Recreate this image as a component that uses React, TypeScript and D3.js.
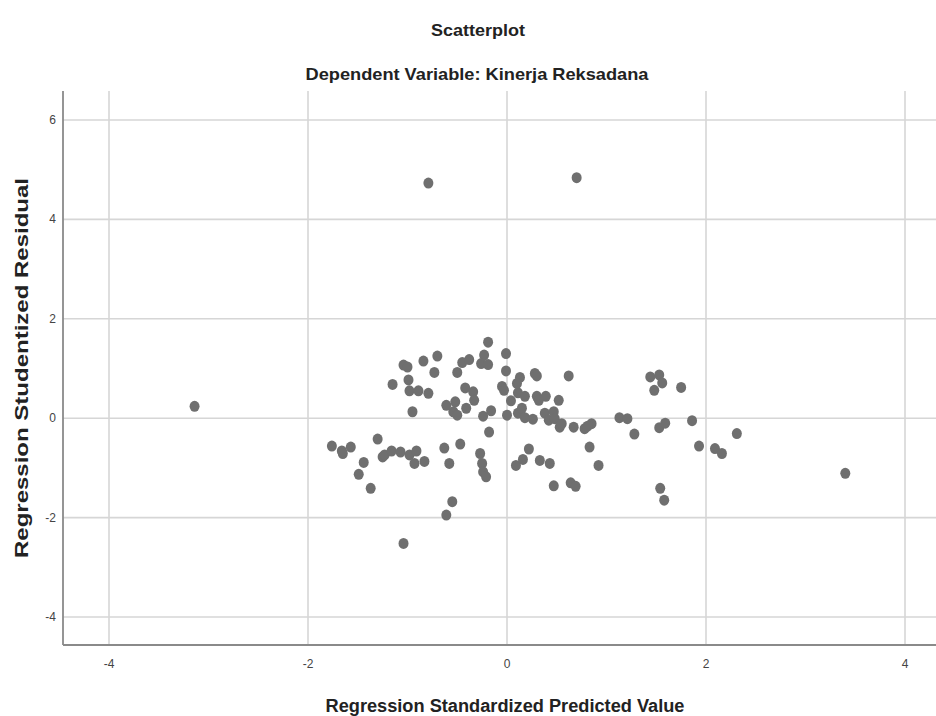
import React from "react";
import * as d3 from "d3";

const width = 936;
const height = 716;

// x = standardized predicted value, y = studentized residual
const predicted = [
  -3.14, -0.79, 0.70, 3.40,
  -1.76, -1.66, -1.65, -1.57, -1.49, -1.44, -1.37, -1.30, -1.25, -1.23, -1.16, -1.07, -0.98, -0.91, -0.93, -0.83, -1.04,
  -1.15, -1.04, -1.00, -0.99, -0.98, -0.89, -0.84, -0.79, -0.73, -0.70, -0.95, -0.61, -0.52, -0.54, -0.50, -0.50,
  -0.45, -0.38, -0.42, -0.34, -0.33, -0.41, -0.24, -0.16, -0.19, -0.23, -0.26, -0.19, -0.01, -0.01, -0.05, -0.03,
  0.00, 0.04, 0.11, 0.18, 0.13, 0.10, 0.11, 0.15, 0.18, 0.28, 0.30, 0.30, 0.39, 0.32, 0.52, 0.26, 0.38, 0.47,
  0.42, 0.48, 0.53, 0.55, 0.62, 0.67, 0.78, 0.85, 0.81,
  -0.18, -0.47, -0.63, -0.58, -0.27, -0.25, -0.24, -0.21, -0.55, -0.61,
  0.09, 0.16, 0.22, 0.33, 0.43, 0.47, 0.64, 0.69, 0.83, 0.92,
  1.13, 1.21, 1.28, 1.44, 1.53, 1.56, 1.48, 1.75, 1.53, 1.59, 1.86, 1.93, 2.09, 2.16, 2.31, 1.54, 1.58,
];
const residual = [
  0.24, 4.73, 4.84, -1.11,
  -0.56, -0.66, -0.71, -0.58, -1.13, -0.89, -1.41, -0.42, -0.78, -0.74, -0.66, -0.68, -0.74, -0.66, -0.91, -0.87, -2.52,
  0.68, 1.07, 1.03, 0.77, 0.55, 0.55, 1.15, 0.50, 0.92, 1.25, 0.13, 0.26, 0.33, 0.13, 0.06, 0.92,
  1.12, 1.18, 0.61, 0.53, 0.36, 0.20, 0.04, 0.15, 1.53, 1.27, 1.10, 1.08, 1.30, 0.95, 0.64, 0.56,
  0.06, 0.35, 0.51, 0.44, 0.82, 0.70, 0.10, 0.20, 0.01, 0.90, 0.85, 0.44, 0.44, 0.36, 0.36, -0.02, 0.10, 0.13,
  -0.04, -0.01, -0.18, -0.11, 0.85, -0.18, -0.21, -0.11, -0.16,
  -0.28, -0.52, -0.60, -0.91, -0.71, -0.91, -1.08, -1.18, -1.68, -1.95,
  -0.95, -0.83, -0.62, -0.85, -0.91, -1.36, -1.30, -1.37, -0.58, -0.95,
  0.01, -0.01, -0.32, 0.83, 0.87, 0.71, 0.56, 0.62, -0.19, -0.10, -0.05, -0.56, -0.61, -0.71, -0.31, -1.41, -1.65,
];

const xTicks = [-4, -2, 0, 2, 4];
const yTicks = [-4, -2, 0, 2, 4, 6];

const title = "Scatterplot";
const subtitle = "Dependent Variable: Kinerja Reksadana";
const xLabel = "Regression Standardized Predicted Value";
const yLabel = "Regression Studentized Residual";

const left = 63;
const top = 91;
const bottom = 645;

const x = d3.scaleLinear().domain([-4, 4]).range([109, 905]);
const y = d3.scaleLinear().domain([-4, 6]).range([617, 120]);

const font = "'Liberation Sans', Arial, sans-serif";

export default function App() {
  const points = predicted.map((p, i) => ({ p, r: residual[i] }));

  return (
    <svg width={width} height={height} style={{ position: "absolute", left: 0, top: 0, background: "#fff" }}
         fontFamily={font}>
      <text x={478} y={36} textAnchor="middle" fontSize={17} fontWeight="bold" fill="#222"
            textLength={94} lengthAdjust="spacingAndGlyphs">{title}</text>
      <text x={477} y={80} textAnchor="middle" fontSize={17} fontWeight="bold" fill="#222"
            textLength={343} lengthAdjust="spacingAndGlyphs">{subtitle}</text>

      {/* grid */}
      {yTicks.map(t => (
        <line key={"gy" + t} x1={left} x2={width} y1={y(t)} y2={y(t)} stroke="#d6d6d6" strokeWidth={1.6}/>
      ))}
      {xTicks.map(t => (
        <line key={"gx" + t} x1={x(t)} x2={x(t)} y1={top} y2={bottom} stroke="#d6d6d6" strokeWidth={1.6}/>
      ))}

      {/* axes */}
      <line x1={left} x2={left} y1={top} y2={bottom} stroke="#8a8a8a" strokeWidth={1.8}/>
      <line x1={left} x2={width} y1={bottom} y2={bottom} stroke="#8a8a8a" strokeWidth={1.8}/>

      {yTicks.map(t => (
        <text key={"ly" + t} x={56} y={y(t) + 4} textAnchor="end" fontSize={12} fill="#444">{t}</text>
      ))}
      {xTicks.map(t => (
        <text key={"lx" + t} x={x(t)} y={668} textAnchor="middle" fontSize={12} fill="#444">{t}</text>
      ))}

      <text x={505} y={712} textAnchor="middle" fontSize={18} fontWeight="bold" fill="#222"
            textLength={359} lengthAdjust="spacingAndGlyphs">{xLabel}</text>
      <text transform="translate(28,368) rotate(-90)" textAnchor="middle" fontSize={18} fontWeight="bold" fill="#222"
            textLength={380} lengthAdjust="spacingAndGlyphs">{yLabel}</text>

      {points.map((d, i) => (
        <ellipse key={i} cx={x(d.p)} cy={y(d.r)} rx={5} ry={5.5} fill="#6f6f6f"/>
      ))}
    </svg>
  );
}
